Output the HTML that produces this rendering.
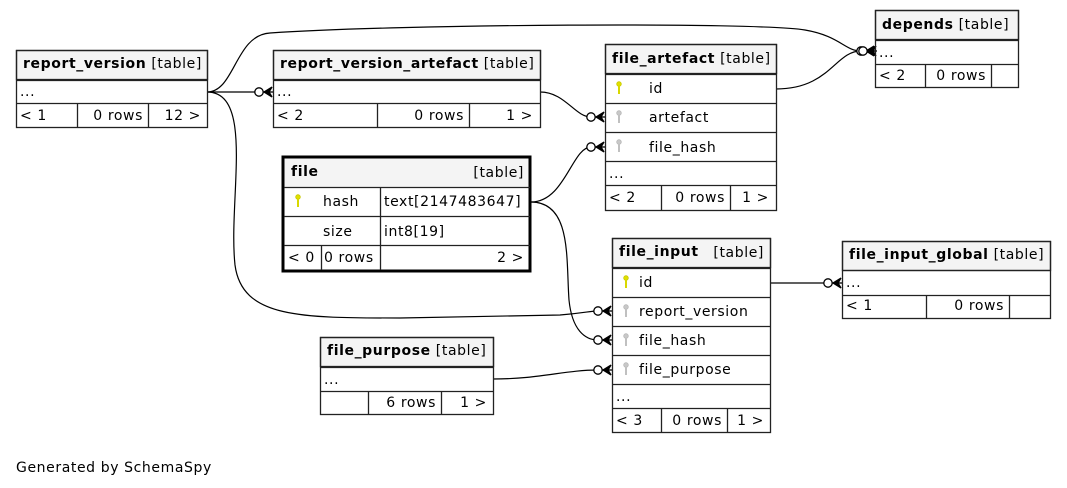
<!DOCTYPE html>
<html><head><meta charset="utf-8"><style>
html,body{margin:0;padding:0;background:#fff;}
svg{display:block;font-family:"DejaVu Sans","Liberation Sans",sans-serif;font-size:14px;letter-spacing:0.6px;}
.b{font-weight:bold;}
</style></head><body>
<svg width="1067" height="488" viewBox="0 0 1067 488" xmlns="http://www.w3.org/2000/svg">
<defs>
<g id="kY"><circle cx="0" cy="0" r="2.3" fill="#e0e000" stroke="#c8c800" stroke-width="0.8"/><line x1="0" y1="2" x2="0" y2="10" stroke="#d8d800" stroke-width="2"/></g>
<g id="kG"><circle cx="0" cy="0" r="2.3" fill="#c8c8c8" stroke="#b8b8b8" stroke-width="0.8"/><line x1="0" y1="2" x2="0" y2="10" stroke="#c0c0c0" stroke-width="2"/></g>
<g id="cf" fill="none" stroke="#000" stroke-width="1.3"><circle cx="-14" cy="0" r="4.2" fill="#fff"/><polygon points="-1,-5 -9,0 -1,5 -4,0" fill="#000"/><line x1="-10" y1="0" x2="0" y2="0"/></g>
</defs>

<g fill="none" stroke="#000" stroke-width="1.2">
<path d="M207,92 L259,92"/>
<path d="M207,92 C235,92 235,35 270,33 C400,24 760,22 805,30 C840,36 845,51 861,51"/>
<path d="M207,92 C255,92 228,200 235,265 C242,318 300,318 400,318 L560,315 C585,313 590,311 598,311"/>
<path d="M540,92 C565,92 575,117 591,117"/>
<path d="M531,202 C565,202 572,147 591,147"/>
<path d="M531,202 C572,202 566,260 569,300 C572,330 585,340 598,340"/>
<path d="M776,89 C830,89 835,51 861,51"/>
<path d="M770,283 L828,283"/>
<path d="M493,379 C540,379 565,370 598,370"/>
</g>
<use href="#cf" x="273" y="92"/>
<use href="#cf" x="875" y="51"/>
<use href="#cf" x="877" y="51"/>
<use href="#cf" x="605" y="117"/>
<use href="#cf" x="605" y="147"/>
<use href="#cf" x="612" y="311"/>
<use href="#cf" x="612" y="340"/>
<use href="#cf" x="612" y="370"/>
<use href="#cf" x="842" y="283"/>

<g stroke="#222" stroke-width="1.3" fill="none">
<rect x="16.5" y="50.5" width="191" height="29" fill="#f4f4f4"/>
<rect x="16.5" y="50.5" width="191" height="77"/>
<line x1="16" y1="80.5" x2="207" y2="80.5"/><line x1="16" y1="103.5" x2="207" y2="103.5"/>
<line x1="77.5" y1="103" x2="77.5" y2="128"/><line x1="148.5" y1="103" x2="148.5" y2="128"/>
<rect x="273.5" y="50.5" width="267" height="29" fill="#f4f4f4"/>
<rect x="273.5" y="50.5" width="267" height="77"/>
<line x1="273" y1="80.5" x2="540" y2="80.5"/><line x1="273" y1="103.5" x2="540" y2="103.5"/>
<line x1="377.5" y1="103" x2="377.5" y2="128"/><line x1="469.5" y1="103" x2="469.5" y2="128"/>
<rect x="605.5" y="44.5" width="171" height="29" fill="#f4f4f4"/>
<rect x="605.5" y="44.5" width="171" height="166"/>
<line x1="605" y1="74.5" x2="776" y2="74.5"/><line x1="605" y1="103.5" x2="776" y2="103.5"/>
<line x1="605" y1="132.5" x2="776" y2="132.5"/><line x1="605" y1="161.5" x2="776" y2="161.5"/>
<line x1="605" y1="185.5" x2="776" y2="185.5"/>
<line x1="661.5" y1="185" x2="661.5" y2="211"/><line x1="730.5" y1="185" x2="730.5" y2="211"/>
<rect x="875.5" y="10.5" width="143" height="29" fill="#f4f4f4"/>
<rect x="875.5" y="10.5" width="143" height="77"/>
<line x1="875" y1="40.5" x2="1018" y2="40.5"/><line x1="875" y1="64.5" x2="1018" y2="64.5"/>
<line x1="925.5" y1="64" x2="925.5" y2="88"/><line x1="991.5" y1="64" x2="991.5" y2="88"/>
<rect x="284" y="158" width="246" height="29" fill="#f4f4f4" stroke="none"/>
<rect x="283" y="157" width="247" height="114" stroke="#000" stroke-width="3"/>
<line x1="284" y1="187.5" x2="530" y2="187.5"/><line x1="284" y1="216.5" x2="530" y2="216.5"/>
<line x1="284" y1="245.5" x2="530" y2="245.5"/>
<line x1="380.5" y1="187" x2="380.5" y2="270"/><line x1="321.5" y1="245" x2="321.5" y2="270"/>
<rect x="612.5" y="238.5" width="158" height="29" fill="#f4f4f4"/>
<rect x="612.5" y="238.5" width="158" height="194"/>
<line x1="612" y1="268.5" x2="770" y2="268.5"/><line x1="612" y1="297.5" x2="770" y2="297.5"/>
<line x1="612" y1="326.5" x2="770" y2="326.5"/><line x1="612" y1="355.5" x2="770" y2="355.5"/>
<line x1="612" y1="384.5" x2="770" y2="384.5"/><line x1="612" y1="408.5" x2="770" y2="408.5"/>
<line x1="661.5" y1="408" x2="661.5" y2="433"/><line x1="727.5" y1="408" x2="727.5" y2="433"/>
<rect x="842.5" y="241.5" width="208" height="29" fill="#f4f4f4"/>
<rect x="842.5" y="241.5" width="208" height="77"/>
<line x1="842" y1="270.5" x2="1050" y2="270.5"/><line x1="842" y1="295.5" x2="1050" y2="295.5"/>
<line x1="926.5" y1="295" x2="926.5" y2="318"/><line x1="1009.5" y1="295" x2="1009.5" y2="318"/>
<rect x="320.5" y="337.5" width="173" height="29" fill="#f4f4f4"/>
<rect x="320.5" y="337.5" width="173" height="77"/>
<line x1="320" y1="367.5" x2="493" y2="367.5"/><line x1="320" y1="391.5" x2="493" y2="391.5"/>
<line x1="368.5" y1="391" x2="368.5" y2="414"/><line x1="441.5" y1="391" x2="441.5" y2="414"/>
</g>

<g fill="#000">
<text x="23" y="68"><tspan class="b">report_version</tspan> [table]</text>
<text x="20" y="96">...</text>
<text x="20" y="120">&lt; 1</text><text x="143" y="120" text-anchor="end">0 rows</text><text x="201" y="120" text-anchor="end">12 &gt;</text>
<text x="280" y="68"><tspan class="b">report_version_artefact</tspan> [table]</text>
<text x="277" y="96">...</text>
<text x="277" y="120">&lt; 2</text><text x="464" y="120" text-anchor="end">0 rows</text><text x="533" y="120" text-anchor="end">1 &gt;</text>
<text x="612" y="63"><tspan class="b">file_artefact</tspan> [table]</text>
<text x="649" y="93">id</text><text x="649" y="122">artefact</text><text x="649" y="152">file_hash</text>
<text x="609" y="178">...</text>
<text x="609" y="202">&lt; 2</text><text x="725" y="202" text-anchor="end">0 rows</text><text x="769" y="202" text-anchor="end">1 &gt;</text>
<text x="882" y="29"><tspan class="b">depends</tspan> [table]</text>
<text x="879" y="57">...</text>
<text x="879" y="80">&lt; 2</text><text x="986" y="80" text-anchor="end">0 rows</text>
<text x="291" y="176" class="b">file</text><text x="524" y="177" text-anchor="end">[table]</text>
<text x="323" y="206">hash</text><text x="384" y="206">text[2147483647]</text>
<text x="323" y="236">size</text><text x="384" y="236">int8[19]</text>
<text x="288" y="262">&lt; 0</text><text x="324" y="262">0 rows</text><text x="524" y="262" text-anchor="end">2 &gt;</text>
<text x="619" y="256" class="b">file_input</text><text x="764" y="257" text-anchor="end">[table]</text>
<text x="639" y="287">id</text><text x="639" y="316">report_version</text><text x="639" y="345">file_hash</text><text x="639" y="374">file_purpose</text>
<text x="616" y="401">...</text>
<text x="616" y="425">&lt; 3</text><text x="722" y="425" text-anchor="end">0 rows</text><text x="764" y="425" text-anchor="end">1 &gt;</text>
<text x="849" y="259"><tspan class="b">file_input_global</tspan> [table]</text>
<text x="846" y="287">...</text>
<text x="846" y="310">&lt; 1</text><text x="1004" y="310" text-anchor="end">0 rows</text>
<text x="327" y="355"><tspan class="b">file_purpose</tspan> [table]</text>
<text x="324" y="384">...</text>
<text x="436" y="407" text-anchor="end">6 rows</text><text x="487" y="407" text-anchor="end">1 &gt;</text>
<text x="16" y="472">Generated by SchemaSpy</text>
</g>

<use href="#kY" x="619" y="84"/>
<use href="#kG" x="619" y="113"/>
<use href="#kG" x="619" y="142"/>
<use href="#kY" x="298" y="197"/>
<use href="#kY" x="626" y="278"/>
<use href="#kG" x="626" y="307"/>
<use href="#kG" x="626" y="336"/>
<use href="#kG" x="626" y="365"/>
</svg>
</body></html>
